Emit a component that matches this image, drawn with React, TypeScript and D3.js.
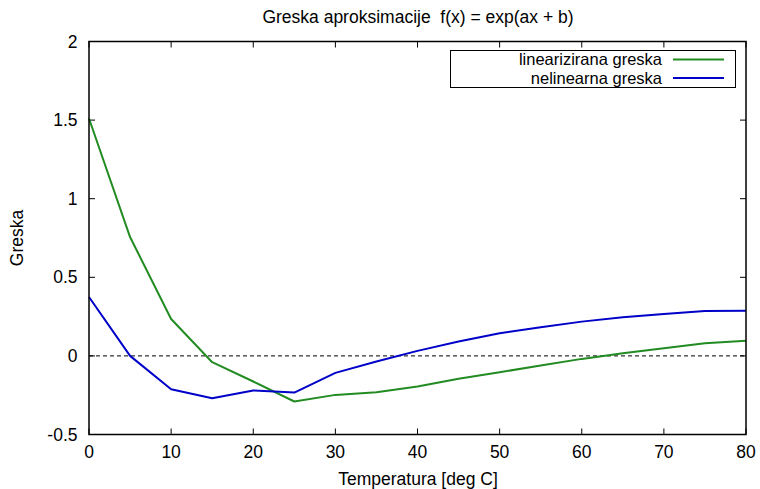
import React, { useEffect, useRef } from "react";
import * as d3 from "d3";

// temperatures (deg C)
const temps = [0, 5, 10, 15, 20, 25, 30, 35, 40, 45, 50, 55, 60, 65, 70, 75, 80];
// linearizirana greska
const linErr = [1.51, 0.756, 0.235, -0.04, -0.163, -0.29, -0.248, -0.231, -0.195, -0.146, -0.104, -0.061, -0.019, 0.017, 0.049, 0.08, 0.097];
// nelinearna greska
const nonlinErr = [0.375, 0.0, -0.212, -0.269, -0.22, -0.233, -0.108, -0.036, 0.032, 0.091, 0.144, 0.182, 0.218, 0.246, 0.267, 0.285, 0.288];

const xTicks = [0, 10, 20, 30, 40, 50, 60, 70, 80];
const yTicks = [-0.5, 0, 0.5, 1, 1.5, 2];

const series = [
  { name: "linearizirana greska", values: linErr, color: "#228b22" },
  { name: "nelinearna greska", values: nonlinErr, color: "#0000c8" },
];

export default function App() {
  const ref = useRef<SVGSVGElement>(null);

  useEffect(() => {
    const w = 760;
    const h = 489;
    const margin = { top: 41.5, right: 14, bottom: 54.5, left: 89 };
    const font = "Liberation Sans, Arial, sans-serif";
    const fs = 17.5;

    const svg = d3.select(ref.current);
    svg.selectAll("*").remove();

    const x = d3.scaleLinear().domain([0, 80]).range([margin.left, w - margin.right]);
    const y = d3.scaleLinear().domain([-0.5, 2]).range([h - margin.bottom, margin.top]);

    const tick = 6;

    // zero line
    svg.append("line")
      .attr("x1", x(0)).attr("x2", x(80))
      .attr("y1", y(0)).attr("y2", y(0))
      .attr("stroke", "black").attr("stroke-width", 1)
      .attr("stroke-dasharray", "4,3");

    // ticks (inward, mirrored)
    const tg = svg.append("g").attr("stroke", "black").attr("stroke-width", 1);
    xTicks.forEach(t => {
      tg.append("line").attr("x1", x(t)).attr("x2", x(t)).attr("y1", y(-0.5)).attr("y2", y(-0.5) - tick);
      tg.append("line").attr("x1", x(t)).attr("x2", x(t)).attr("y1", y(2)).attr("y2", y(2) + tick);
    });
    yTicks.forEach(t => {
      tg.append("line").attr("x1", x(0)).attr("x2", x(0) + tick).attr("y1", y(t)).attr("y2", y(t));
      tg.append("line").attr("x1", x(80)).attr("x2", x(80) - tick).attr("y1", y(t)).attr("y2", y(t));
    });

    // lines
    const line = d3.line<number>()
      .x((d, i) => x(temps[i]))
      .y(d => y(d));

    series.forEach(s => {
      svg.append("path")
        .datum(s.values)
        .attr("d", line)
        .attr("fill", "none")
        .attr("stroke", s.color)
        .attr("stroke-width", 2)
        .attr("stroke-linejoin", "round");
    });

    // legend
    const lg = svg.append("g");
    lg.append("rect")
      .attr("x", 450.5).attr("y", 50.5)
      .attr("width", 285).attr("height", 37)
      .attr("fill", "white").attr("stroke", "black").attr("stroke-width", 1);
    series.forEach((s, i) => {
      const ly = 59.5 + i * 18.5;
      lg.append("text")
        .attr("x", 662).attr("y", ly)
        .attr("dy", "0.35em")
        .attr("text-anchor", "end")
        .attr("font-family", font).attr("font-size", 16.5)
        .text(s.name);
      lg.append("line")
        .attr("x1", 673).attr("x2", 724)
        .attr("y1", ly).attr("y2", ly)
        .attr("stroke", s.color).attr("stroke-width", 2);
    });

    // frame
    svg.append("rect")
      .attr("x", x(0)).attr("y", y(2))
      .attr("width", x(80) - x(0)).attr("height", y(-0.5) - y(2))
      .attr("fill", "none").attr("stroke", "black").attr("stroke-width", 1.5);

    // tick labels
    svg.append("g").selectAll("text")
      .data(xTicks)
      .join("text")
      .attr("x", d => x(d)).attr("y", y(-0.5) + 23)
      .attr("text-anchor", "middle")
      .attr("font-family", font).attr("font-size", fs)
      .text(d => d);

    svg.append("g").selectAll("text")
      .data(yTicks)
      .join("text")
      .attr("x", x(0) - 11.5).attr("y", d => y(d))
      .attr("dy", "0.35em")
      .attr("text-anchor", "end")
      .attr("font-family", font).attr("font-size", fs)
      .text(d => d);

    // title and axis labels
    svg.append("text")
      .attr("x", 418).attr("y", 22.5)
      .attr("text-anchor", "middle")
      .attr("font-family", font).attr("font-size", fs)
      .attr("xml:space", "preserve")
      .style("white-space", "pre")
      .text("Greska aproksimacije  f(x) = exp(ax + b)");

    svg.append("text")
      .attr("x", 418).attr("y", 485)
      .attr("text-anchor", "middle")
      .attr("font-family", font).attr("font-size", fs)
      .text("Temperatura [deg C]");

    svg.append("text")
      .attr("transform", `translate(23,${(y(2) + y(-0.5)) / 2}) rotate(-90)`)
      .attr("text-anchor", "middle")
      .attr("font-family", font).attr("font-size", fs)
      .text("Greska");
  }, []);

  return (
    <svg ref={ref} width={760} height={489}
      style={{ position: "absolute", left: 0, top: 0, background: "white" }} />
  );
}
